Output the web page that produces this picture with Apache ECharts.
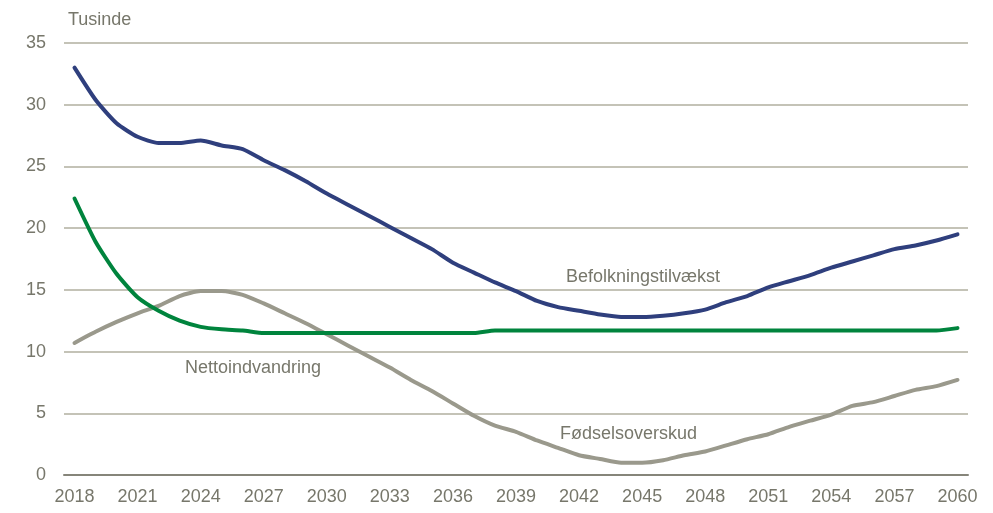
<!DOCTYPE html>
<html>
<head>
<meta charset="utf-8">
<script src="https://cdn.jsdelivr.net/npm/echarts@6/dist/echarts.min.js"></script>
<style>
  html, body { margin: 0; padding: 0; background: #ffffff; }
  #chart { width: 993px; height: 513px; }
</style>
</head>
<body>
<div id="chart"></div>
<script>
// Years 2018–2060
const years = [];
for (let y = 2018; y <= 2060; y++) years.push(String(y));

// Befolkningstilvækst (tusinde)
const befolkningstilvaekst = [
  33.0, 30.4, 28.5, 27.4, 26.9, 26.9, 27.1, 26.7, 26.4, 25.5,
  24.7, 23.8, 22.8, 21.9, 21.0, 20.1, 19.2, 18.3, 17.2, 16.4,
  15.6, 14.9, 14.1, 13.6, 13.3, 13.0, 12.8, 12.8, 12.9, 13.1,
  13.4, 14.0, 14.5, 15.2, 15.7, 16.2, 16.8, 17.3, 17.8, 18.3,
  18.6, 19.0, 19.5
];

// Nettoindvandring (tusinde)
const nettoindvandring = [
  22.4, 18.9, 16.3, 14.4, 13.3, 12.5, 12.0, 11.8, 11.7, 11.5,
  11.5, 11.5, 11.5, 11.5, 11.5, 11.5, 11.5, 11.5, 11.5, 11.5,
  11.7, 11.7, 11.7, 11.7, 11.7, 11.7, 11.7, 11.7, 11.7, 11.7,
  11.7, 11.7, 11.7, 11.7, 11.7, 11.7, 11.7, 11.7, 11.7, 11.7,
  11.7, 11.7, 11.9
];

// Fødselsoverskud (tusinde)
const foedselsoverskud = [
  10.7, 11.6, 12.4, 13.1, 13.7, 14.5, 14.9, 14.9, 14.6, 13.9,
  13.1, 12.3, 11.4, 10.5, 9.6, 8.7, 7.7, 6.8, 5.8, 4.8,
  4.0, 3.5, 2.8, 2.2, 1.6, 1.3, 1.0, 1.0, 1.2, 1.6,
  1.9, 2.4, 2.9, 3.3, 3.9, 4.4, 4.9, 5.6, 5.9, 6.4,
  6.9, 7.2, 7.7
];

const textColor = '#77776b';
const fontFamily = '"Liberation Sans Narrow", "Arial Narrow", "Liberation Sans", sans-serif';
const fontSize = 18;

const chart = echarts.init(document.getElementById('chart'), null, { renderer: 'canvas' });

const lineSeries = (name, data, color) => ({
  name: name,
  type: 'line',
  data: data,
  symbol: 'none',
  smooth: 0.2,
  lineStyle: { color: color, width: 4, cap: 'round', join: 'round' },
  itemStyle: { color: color },
  z: 3
});

const label = (text, left, top) => ({
  type: 'text', left: left, top: top,
  style: { text: text, fill: textColor, font: fontSize + 'px ' + fontFamily }
});

chart.setOption({
  animation: false,
  backgroundColor: '#ffffff',
  textStyle: { fontFamily: fontFamily },
  grid: { left: 64, right: 25, top: 43, bottom: 38, containLabel: false },
  xAxis: {
    type: 'category',
    data: years,
    boundaryGap: true,
    axisLine: { show: true, lineStyle: { color: '#86857a', width: 2 } },
    axisTick: { show: false },
    axisLabel: {
      interval: 2,
      color: textColor,
      fontSize: fontSize,
      fontFamily: fontFamily,
      margin: 13
    },
    splitLine: { show: false }
  },
  yAxis: {
    type: 'value',
    min: 0,
    max: 35,
    interval: 5,
    axisLine: { show: false },
    axisTick: { show: false },
    axisLabel: {
      color: textColor,
      fontSize: fontSize,
      fontFamily: fontFamily,
      margin: 18
    },
    splitLine: { show: true, lineStyle: { color: '#c4c3b7', width: 2 } }
  },
  graphic: [
    label('Tusinde', 68, 11),
    label('Befolkningstilvækst', 566, 268),
    label('Nettoindvandring', 185, 359),
    label('Fødselsoverskud', 560, 425)
  ],
  series: [
    lineSeries('Fødselsoverskud', foedselsoverskud, '#9a998c'),
    lineSeries('Nettoindvandring', nettoindvandring, '#00843d'),
    lineSeries('Befolkningstilvækst', befolkningstilvaekst, '#2f3f7d')
  ]
});
</script>
</body>
</html>
